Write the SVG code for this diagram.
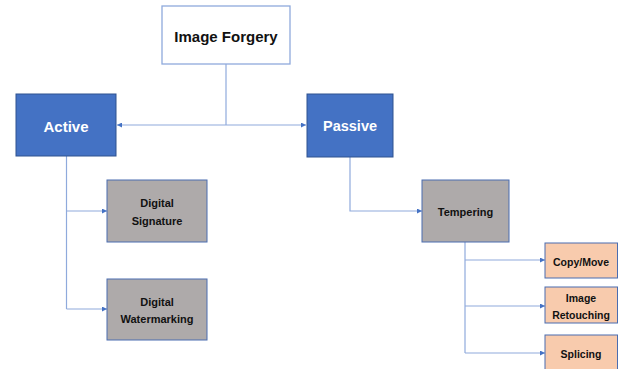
<svg xmlns="http://www.w3.org/2000/svg" width="624" height="369" viewBox="0 0 624 369">
<style>
text{font-family:"Liberation Sans",Arial,sans-serif;font-weight:bold;text-anchor:middle;dominant-baseline:central;fill:#111}
.top{fill:#fff;stroke:#8FAADC;stroke-width:1.3}
.blue{fill:#4472C4;stroke:#2F528F;stroke-width:1}
.gray{fill:#AEAAAA;stroke:#4A6DB0;stroke-width:1}
.orange{fill:#F8CBAD;stroke:#4A6DB0;stroke-width:1}
.w{fill:#fff}
.conn path{fill:none;stroke:#8FAADC;stroke-width:1.2}
</style>
<defs>
<marker id="arr" viewBox="0 0 6 6" refX="6" refY="3" markerWidth="5" markerHeight="5" orient="auto" markerUnits="userSpaceOnUse">
<path d="M0,0 L6,3 L0,6 z" fill="#4472C4"/>
</marker>
</defs>
<g class="conn">
<path d="M226,64 V125"/>
<path d="M226,125 H117" marker-end="url(#arr)"/>
<path d="M226,125 H306" marker-end="url(#arr)"/>
<path d="M66.5,156 V309"/>
<path d="M66.5,211 H107" marker-end="url(#arr)"/>
<path d="M66.5,309 H107" marker-end="url(#arr)"/>
<path d="M350,157 V211 H422" marker-end="url(#arr)"/>
<path d="M465,242 V353"/>
<path d="M465,260 H545" marker-end="url(#arr)"/>
<path d="M465,306 H545" marker-end="url(#arr)"/>
<path d="M465,353 H545" marker-end="url(#arr)"/>
</g>
<g id="image-forgery">
<rect class="top" x="162" y="6" width="128" height="58"/>
<text x="226" y="36" font-size="15">Image Forgery</text>
</g>
<g id="active">
<rect class="blue" x="16" y="94" width="100" height="62"/>
<text class="w" x="66" y="126" font-size="15">Active</text>
</g>
<g id="passive">
<rect class="blue" x="307" y="94" width="86" height="63"/>
<text class="w" x="350" y="126" font-size="14.5">Passive</text>
</g>
<g id="digital-signature">
<rect class="gray" x="107" y="180" width="100" height="62"/>
<text x="157" y="203" font-size="11">Digital</text>
<text x="157" y="221" font-size="11">Signature</text>
</g>
<g id="digital-watermarking">
<rect class="gray" x="107" y="279" width="100" height="61"/>
<text x="157" y="302" font-size="11">Digital</text>
<text x="157" y="319" font-size="11">Watermarking</text>
</g>
<g id="tempering">
<rect class="gray" x="422" y="180" width="87" height="62"/>
<text x="465.5" y="212" font-size="11">Tempering</text>
</g>
<g id="copy-move">
<rect class="orange" x="545" y="243" width="72.5" height="35"/>
<text x="581" y="262" font-size="10.5">Copy/Move</text>
</g>
<g id="image-retouching">
<rect class="orange" x="545" y="287" width="72.5" height="36"/>
<text x="581" y="298" font-size="10.5">Image</text>
<text x="581" y="315" font-size="10.5">Retouching</text>
</g>
<g id="splicing">
<rect class="orange" x="545" y="335" width="72.5" height="40"/>
<text x="581" y="354" font-size="10.5">Splicing</text>
</g>
</svg>
